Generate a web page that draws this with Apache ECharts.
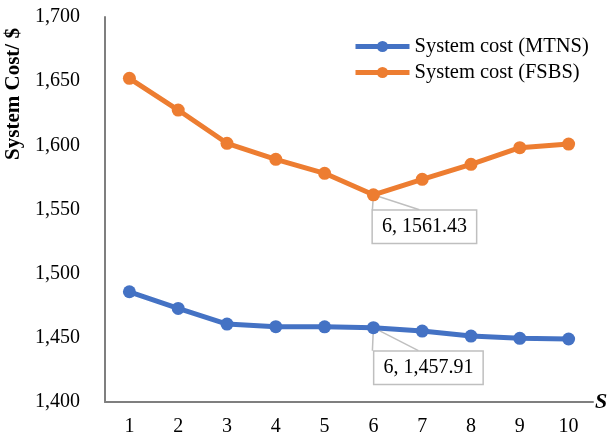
<!DOCTYPE html>
<html>
<head>
<meta charset="utf-8">
<script src="https://cdn.jsdelivr.net/npm/echarts@6/dist/echarts.min.js"></script>
<style>
  html, body { margin: 0; padding: 0; background: #fff; }
  #chart { width: 607px; height: 444px; }
</style>
</head>
<body>
<div id="chart"></div>
<script>
// Number of stations S on the horizontal axis
const sValues = ['1', '2', '3', '4', '5', '6', '7', '8', '9', '10'];

// System cost for the two schemes
const costMTNS = [1485.9, 1472.9, 1460.7, 1458.7, 1458.6, 1457.91, 1455.3, 1451.4, 1449.6, 1449.1];
const costFSBS = [1652.2, 1627.5, 1601.6, 1589.1, 1578.2, 1561.43, 1573.5, 1585.2, 1598.2, 1601.0];

const seriesNames = ['System cost (MTNS)', 'System cost (FSBS)'];
const calloutIndex = 5;

const FONT = '"Liberation Serif", "Times New Roman", serif';
const fmtThousands = v => v.toLocaleString('en-US');

// Callout placement relative to the annotated point (pixels)
const calloutStyle = [
  { dx: 55, dy: 40, wedge: [[-1, 23], [45, 23]] },   // MTNS
  { dx: 51, dy: 32, wedge: [[-1, 15], [46, 15]] }    // FSBS
];

function withCallout(values, text) {
  return values.map((v, i) => i === calloutIndex ? {
    value: v,
    label: {
      show: true,
      position: 'inside',
      formatter: text,
      fontFamily: FONT,
      fontSize: 20,
      color: '#000',
      backgroundColor: '#fff',
      borderColor: '#bfbfbf',
      borderWidth: 1.5,
      padding: [6, 9]
    }
  } : v);
}

const chart = echarts.init(document.getElementById('chart'), null, { renderer: 'canvas' });

chart.setOption({
  animation: false,
  backgroundColor: '#fff',
  grid: { left: 105, right: 14, top: 17, bottom: 42, containLabel: false, outerBoundsMode: 'none' },
  legend: {
    orient: 'vertical',
    left: 348,
    top: 31,
    itemWidth: 54,
    itemHeight: 14,
    itemGap: 5,
    lineStyle: { width: 5 },
    textStyle: { fontFamily: FONT, fontSize: 20.5, color: '#000' },
    data: seriesNames
  },
  xAxis: {
    type: 'category',
    data: sValues,
    boundaryGap: true,
    name: 'S',
    nameLocation: 'end',
    nameGap: 2,
    nameTextStyle: { fontFamily: FONT, fontSize: 22, fontWeight: 'bold', fontStyle: 'italic', color: '#000', padding: [46, 0, 0, 0] },
    axisLine: { show: true, lineStyle: { color: '#7f7f7f', width: 2 } },
    axisTick: { show: false },
    axisLabel: { fontFamily: FONT, fontSize: 20, color: '#000', margin: 15 },
    splitLine: { show: false }
  },
  yAxis: {
    type: 'value',
    min: 1400,
    max: 1700,
    interval: 50,
    name: 'System Cost/ $',
    nameLocation: 'middle',
    nameGap: 70,
    nameTextStyle: { fontFamily: FONT, fontSize: 21, fontWeight: 'bold', color: '#000', padding: [0, 0, 0, 231] },
    axisLine: { show: true, lineStyle: { color: '#7f7f7f', width: 2 } },
    axisTick: { show: false },
    axisLabel: { fontFamily: FONT, fontSize: 20, color: '#000', margin: 25, formatter: fmtThousands },
    splitLine: { show: false }
  },
  series: [
    {
      name: seriesNames[0],
      type: 'line',
      data: withCallout(costMTNS, '6, 1,457.91'),
      symbol: 'circle',
      symbolSize: 13,
      lineStyle: { color: '#4472c4', width: 5 },
      itemStyle: { color: '#4472c4' },
      labelLayout: p => p.dataIndex === calloutIndex ? { dx: calloutStyle[0].dx, dy: calloutStyle[0].dy } : {}
    },
    {
      name: seriesNames[1],
      type: 'line',
      data: withCallout(costFSBS, '6, 1561.43'),
      symbol: 'circle',
      symbolSize: 13,
      lineStyle: { color: '#ed7d31', width: 5 },
      itemStyle: { color: '#ed7d31' },
      labelLayout: p => p.dataIndex === calloutIndex ? { dx: calloutStyle[1].dx, dy: calloutStyle[1].dy } : {}
    }
  ]
});

// Leader wedges from each annotated point to its callout box
const seriesValues = [costMTNS, costFSBS];
chart.setOption({
  graphic: seriesValues.map((vals, s) => {
    const pt = chart.convertToPixel({ seriesIndex: s }, [calloutIndex, vals[calloutIndex]]);
    const w = calloutStyle[s].wedge;
    return {
      type: 'polyline',
      z: 1,
      shape: {
        points: [
          [pt[0] + w[0][0], pt[1] + w[0][1]],
          [pt[0], pt[1]],
          [pt[0] + w[1][0], pt[1] + w[1][1]]
        ]
      },
      style: { stroke: '#bfbfbf', lineWidth: 1.5, fill: null }
    };
  })
});
</script>
</body>
</html>
